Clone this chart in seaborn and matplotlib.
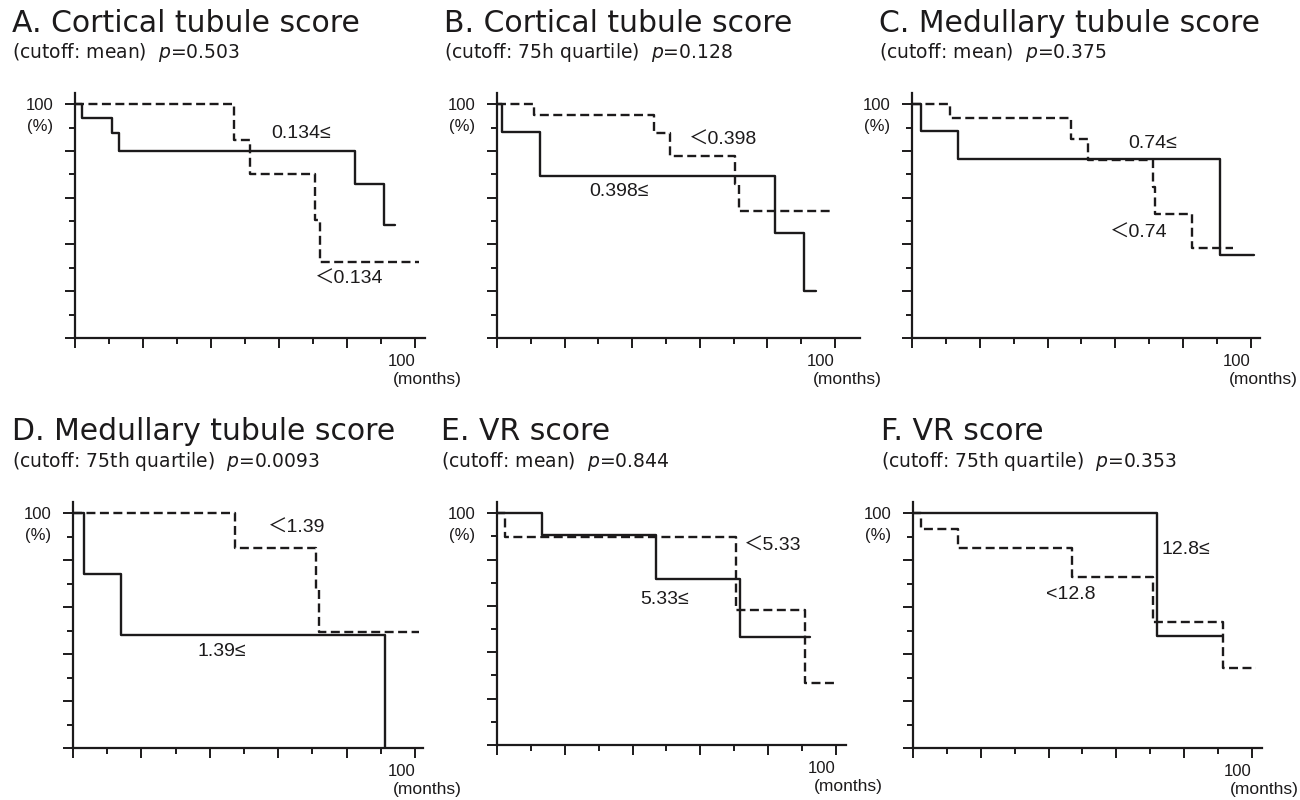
import numpy as np
import pandas as pd
import seaborn as sns
import matplotlib
matplotlib.use("Agg")
import matplotlib.pyplot as plt
from matplotlib.ticker import FixedLocator

# ---------------- data ----------------
titles = ["A. Cortical tubule score", "B. Cortical tubule score", "C. Medullary tubule score",
          "D. Medullary tubule score", "E. VR score", "F. VR score"]
cutoffs = ["mean", "75h quartile", "mean", "75th quartile", "mean", "75th quartile"]
p_values = ["0.503", "0.128", "0.375", "0.0093", "0.844", "0.353"]

hi_labels = ["0.134≤", "0.398≤", "0.74≤", "1.39≤", "5.33≤", "12.8≤"]
lo_labels = ["＜0.134", "＜0.398", "＜0.74", "＜1.39", "＜5.33", "<12.8"]

# Kaplan-Meier steps: months and survival (%) after each step
a_hi_t = [0, 2.0, 11.0, 13.0, 82.4, 90.7, 94.1]
a_hi_s = [100, 94.3, 87.5, 80.1, 65.9, 48.4, 48.4]
a_lo_t = [0, 46.6, 51.5, 70.6, 71.9, 101.0]
a_lo_s = [100, 84.9, 70.1, 50.5, 32.7, 32.7]

b_hi_t = [0, 1.5, 12.8, 82.3, 90.8, 94.4]
b_hi_s = [100, 88.2, 69.4, 45.1, 20.3, 20.3]
b_lo_t = [0, 10.8, 46.5, 51.2, 70.4, 71.7, 99.5]
b_lo_s = [100, 95.6, 87.5, 78.0, 65.9, 54.5, 54.5]

c_hi_t = [0, 2.75, 13.5, 91.0, 101.0]
c_hi_s = [100, 88.5, 76.5, 35.6, 35.6]
c_lo_t = [0, 11.3, 47.0, 51.9, 71.0, 71.7, 82.7, 94.6]
c_lo_s = [100, 93.9, 85.3, 76.0, 64.7, 53.1, 38.7, 38.7]

d_hi_t = [0, 3.1, 13.9, 91.2]
d_hi_s = [100, 74.2, 48.2, 0]
d_lo_t = [0, 47.3, 71.0, 72.0, 101.0]
d_lo_s = [100, 85.1, 67.7, 49.6, 49.6]

e_hi_t = [0, 13.3, 46.9, 71.7, 92.3]
e_hi_s = [100, 90.4, 71.4, 46.4, 46.4]
e_lo_t = [0, 2.5, 70.5, 91.0, 100.2]
e_lo_s = [100, 89.7, 58.3, 26.9, 26.9]

f_hi_t = [0, 71.9, 91.1]
f_hi_s = [100, 47.9, 47.9]
f_lo_t = [0, 2.5, 13.3, 46.8, 70.9, 91.4, 101.3]
f_lo_s = [100, 93.5, 85.3, 73.0, 53.6, 34.1, 34.1]

hi_times = [a_hi_t, b_hi_t, c_hi_t, d_hi_t, e_hi_t, f_hi_t]
hi_surv = [a_hi_s, b_hi_s, c_hi_s, d_hi_s, e_hi_s, f_hi_s]
lo_times = [a_lo_t, b_lo_t, c_lo_t, d_lo_t, e_lo_t, f_lo_t]
lo_surv = [a_lo_s, b_lo_s, c_lo_s, d_lo_s, e_lo_s, f_lo_s]

# label positions (months, %)
hi_label_pos = [(66.5, 87.5), (36, 62.6), (71, 83.2), (43.5, 41), (49.6, 62.9), (80.5, 84.6)]
lo_label_pos = [(80.5, 25), (67, 84.6), (67, 44.8), (65.3, 93.6), (81.5, 85.7), (46.5, 65.4)]

major_ticks = [0, 20, 40, 60, 80, 100]
minor_ticks = [10, 30, 50, 70, 90]

# ---------------- layout (pixels) ----------------
W, H = 1300, 800
# left, right, top, bottom of each axes in px
axes_px = [(75, 425, 93, 338), (497, 860, 93, 338), (912, 1260, 93, 338),
           (73, 423, 502, 748), (497, 846, 502, 745), (913, 1262, 502, 748)]
xmax = [102.9, 107.4, 102.7, 102.3, 103.0, 103.0]
title_px = [(12, 24), (444, 24), (879, 24), (12, 432), (441, 432), (881, 432)]
sub_px = [(12, 52), (444, 52), (879, 52), (12, 461), (441, 461), (881, 461)]

INK = "#1c1a1b"
sns.set_theme(style="white")
plt.rcParams["font.family"] = ["DejaVu Sans"]
plt.rcParams["text.color"] = INK
NUMFONT = ["Liberation Sans", "Noto Sans CJK JP", "DejaVu Sans"]

fig = plt.figure(figsize=(W / 100, H / 100), dpi=100)
fig.patch.set_facecolor("white")

for i in range(6):
    l, r, t, b = axes_px[i]
    ax = fig.add_axes([l / W, 1 - b / H, (r - l) / W, (b - t) / H])
    ax.set_facecolor("white")

    df = pd.concat([
        pd.DataFrame({"time": hi_times[i], "surv": hi_surv[i], "group": "hi"}),
        pd.DataFrame({"time": lo_times[i], "surv": lo_surv[i], "group": "lo"}),
    ], ignore_index=True)
    sns.lineplot(data=df, x="time", y="surv", style="group",
                 dashes={"hi": "", "lo": (3.8, 1.9)}, estimator=None, sort=False,
                 drawstyle="steps-post", color=INK, linewidth=1.7, legend=False, ax=ax)

    ax.set_xlabel("")
    ax.set_ylabel("")
    for s in ["top", "right"]:
        ax.spines[s].set_visible(False)
    for s in ["left", "bottom"]:
        ax.spines[s].set_linewidth(1.6)
        ax.spines[s].set_color(INK)

    ax.xaxis.set_major_locator(FixedLocator(major_ticks))
    ax.xaxis.set_minor_locator(FixedLocator(minor_ticks))
    ax.yaxis.set_major_locator(FixedLocator(major_ticks))
    ax.yaxis.set_minor_locator(FixedLocator(minor_ticks))
    ax.set_xticklabels(["100" if v == 100 else "" for v in major_ticks],
                       family=NUMFONT, fontsize=12, color=INK, ha="right")
    ax.set_yticklabels(["100" if v == 100 else "" for v in major_ticks],
                       family=NUMFONT, fontsize=12, color=INK)
    ax.tick_params(which="major", direction="out", length=7.5, width=1.4, color=INK,
                   bottom=True, left=True)
    ax.tick_params(which="minor", direction="out", length=4.2, width=1.4, color=INK,
                   bottom=True, left=True)
    ax.tick_params(axis="y", which="major", pad=8)
    ax.tick_params(axis="x", which="major", pad=4)
    ax.set_xlim(0, xmax[i])
    ax.set_ylim(0, 104.8)

    ax.annotate("(%)", xy=(0, 100), xycoords="data", xytext=(-25, -16),
                textcoords="offset points", ha="center", va="center",
                fontsize=12, family=NUMFONT, color=INK, annotation_clip=False)
    ax.annotate("(months)", xy=(100, 0), xycoords="data", xytext=(9, -30),
                textcoords="offset points", ha="center", va="center",
                fontsize=12.5, family=NUMFONT, color=INK, annotation_clip=False)

    ax.text(*hi_label_pos[i], hi_labels[i], ha="center", va="center",
            fontsize=14, family=NUMFONT, color=INK)
    ax.text(*lo_label_pos[i], lo_labels[i], ha="center", va="center",
            fontsize=14, family=NUMFONT, color=INK)

    tx, ty = title_px[i]
    fig.text(tx / W, 1 - ty / H, titles[i], ha="left", va="center",
             fontsize=21.5, color=INK)
    sx, sy = sub_px[i]
    fig.text(sx / W, 1 - sy / H, f"(cutoff: {cutoffs[i]})  $p$=" + p_values[i],
             ha="left", va="center", fontsize=13.5, color=INK)

fig.savefig("out.png", dpi=100, facecolor="white")
